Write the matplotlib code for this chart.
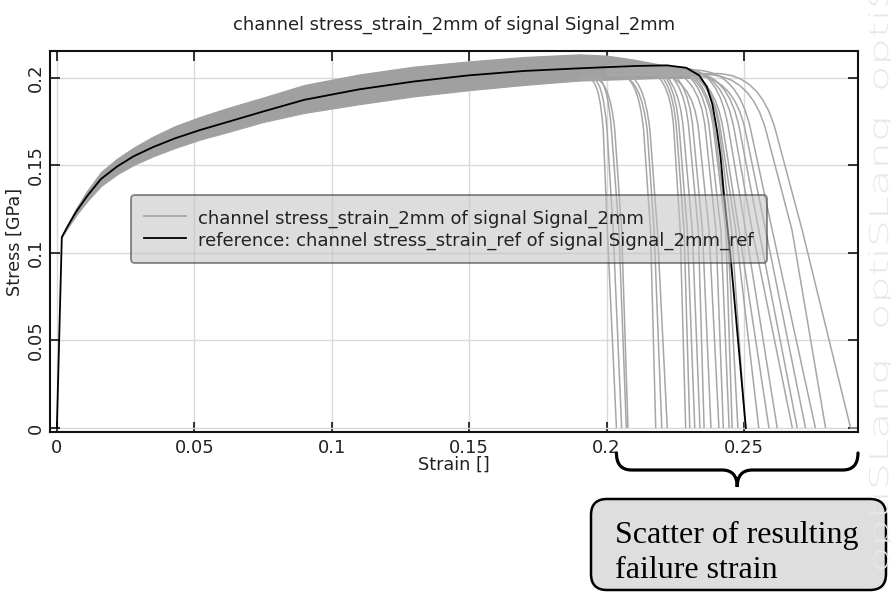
import matplotlib
matplotlib.use("Agg")
import matplotlib.pyplot as plt
from matplotlib.lines import Line2D
from matplotlib.patches import FancyBboxPatch, PathPatch
from matplotlib.path import Path
from matplotlib.textpath import TextPath
from matplotlib.font_manager import FontProperties
from matplotlib.transforms import Affine2D, blended_transform_factory

W, H = 891, 592

### reference curve (black)
ref_strain = [0, 0.0018, 0.004, 0.007, 0.011, 0.016, 0.022, 0.028, 0.035, 0.043, 0.052,
              0.062, 0.075, 0.09, 0.11, 0.13, 0.15, 0.17, 0.19, 0.21, 0.222, 0.229,
              0.2337, 0.2365, 0.2385, 0.2402, 0.2415, 0.2427, 0.245, 0.2507]
ref_stress = [0, 0.109, 0.1155, 0.1235, 0.1325, 0.1422, 0.1495, 0.1553, 0.1605, 0.1655,
              0.1702, 0.1748, 0.1808, 0.1875, 0.1935, 0.198, 0.2015, 0.204, 0.2055, 0.2068,
              0.2072, 0.2058, 0.2015, 0.195, 0.185, 0.170, 0.155, 0.134, 0.100, 0.0]

### envelope of the grey designs before failure
band_strain = [0.0018, 0.004, 0.007, 0.011, 0.016, 0.022, 0.028, 0.035, 0.043, 0.052, 0.062,
               0.075, 0.09, 0.11, 0.13, 0.15, 0.17, 0.19, 0.20, 0.21, 0.22, 0.23]
band_low = [0.109, 0.1145, 0.1215, 0.1295, 0.1382, 0.145, 0.1503, 0.1552, 0.16, 0.1647,
            0.169, 0.1748, 0.18, 0.185, 0.1895, 0.193, 0.196, 0.1985, 0.199, 0.1995,
            0.200, 0.200]
band_high = [0.109, 0.1165, 0.1255, 0.1355, 0.1462, 0.154, 0.1603, 0.1665, 0.1725, 0.1777,
             0.1828, 0.1888, 0.196, 0.202, 0.2065, 0.2095, 0.212, 0.2135, 0.2128, 0.2105,
             0.2075, 0.2055]

### failure branch of every grey design
onset = [0.19, 0.19, 0.19, 0.19, 0.2, 0.2, 0.2, 0.2, 0.2, 0.2, 0.2, 0.2, 0.2, 0.2, 0.2,
         0.2, 0.2, 0.2, 0.2, 0.2, 0.2, 0.2, 0.2, 0.2, 0.2, 0.2, 0.2, 0.2]
plateau = [0.1995, 0.200, 0.2015, 0.200, 0.2025, 0.201, 0.2025, 0.2055, 0.2065, 0.207,
           0.2055, 0.206, 0.2065, 0.2025, 0.205, 0.2065, 0.2055, 0.206, 0.205, 0.2045,
           0.2025, 0.2055, 0.204, 0.2035, 0.2015, 0.2045, 0.202, 0.2025]
bend_start = [0.1935, 0.1945, 0.1955, 0.195, 0.204, 0.205, 0.206, 0.212, 0.213, 0.214,
              0.215, 0.216, 0.217, 0.217, 0.219, 0.220, 0.221, 0.222, 0.223, 0.226,
              0.227, 0.228, 0.229, 0.230, 0.231, 0.232, 0.236, 0.240]
corner = [0.1975, 0.1987, 0.2003, 0.2012, 0.2115, 0.2125, 0.2135, 0.2232, 0.2239, 0.2248,
          0.2261, 0.2281, 0.2295, 0.2313, 0.2338, 0.2351, 0.2364, 0.2369, 0.2384, 0.2383,
          0.2392, 0.2410, 0.2427, 0.2445, 0.2462, 0.2480, 0.2525, 0.2559]
e170 = [0.1988, 0.2002, 0.2018, 0.2030, 0.2135, 0.2148, 0.2158, 0.2245, 0.2255, 0.2265,
        0.2280, 0.2300, 0.2315, 0.2335, 0.2360, 0.2375, 0.2390, 0.2395, 0.2410, 0.2415,
        0.2425, 0.2445, 0.2465, 0.2485, 0.2505, 0.2525, 0.2580, 0.2615]
e113 = [0.2003, 0.2024, 0.2045, 0.2055, 0.2160, 0.2173, 0.2185, 0.2268, 0.2282, 0.2294,
        0.2312, 0.2334, 0.2349, 0.2373, 0.2398, 0.2416, 0.2434, 0.2440, 0.2455, 0.2470,
        0.2482, 0.2506, 0.2530, 0.2554, 0.2579, 0.2603, 0.2675, 0.2712]
e_fail = [0.2036, 0.2055, 0.2072, 0.2078, 0.2179, 0.2201, 0.2221, 0.2288, 0.2303, 0.2321,
          0.2340, 0.2355, 0.2380, 0.2409, 0.2425, 0.2446, 0.2457, 0.2478, 0.2505, 0.2554,
          0.2591, 0.2621, 0.2676, 0.2694, 0.2724, 0.2760, 0.2797, 0.2888]

x_ticks = [0, 0.05, 0.1, 0.15, 0.2, 0.25]
x_labels = ["0", "0.05", "0.1", "0.15", "0.2", "0.25"]
y_ticks = [0, 0.05, 0.1, 0.15, 0.2]
y_labels = ["0", "0.05", "0.1", "0.15", "0.2"]

grey = "#a6a6a6"
txt = "#222222"

fig = plt.figure(figsize=(W / 100, H / 100), dpi=100)
ax = fig.add_axes([50 / W, 1 - 432 / H, 808 / W, 381 / H])

ax.fill_between(band_strain, band_low, band_high, color="#a0a0a0", lw=0.8, zorder=2)

### failure branches: flat plateau, rounded bend, then straight drop to zero
codes = [Path.MOVETO, Path.LINETO, Path.CURVE3, Path.CURVE3, Path.LINETO, Path.LINETO]
for i in range(len(e_fail)):
    verts = [(onset[i], plateau[i]), (bend_start[i], plateau[i]), (corner[i], plateau[i]),
             (e170[i], 0.17), (e113[i], 0.113), (e_fail[i], 0.0)]
    c = list(codes)
    if i == len(e_fail) - 1:
        verts.append((0.2915, 0.0))
        c.append(Path.LINETO)
    ax.add_patch(PathPatch(Path(verts, c), fc="none", ec=grey, lw=1.1, zorder=2))
ax.plot(ref_strain, ref_stress, color="black", lw=1.3, zorder=3)

ax.set_xlim(-0.0025, 0.2915)
ax.set_ylim(-0.0023, 0.2154)
ax.set_xticks(x_ticks, x_labels)
ax.set_yticks(y_ticks, y_labels)
ax.tick_params(direction="in", length=7, width=1.3, top=True, right=True,
               labelsize=13, pad=5, colors=txt)
ax.tick_params(axis="y", pad=4)
for lab in ax.get_yticklabels():
    lab.set_rotation(90)
    lab.set_va("center")
ax.grid(True, color="#d9d9d9", lw=1.0, zorder=0)
ax.set_axisbelow(True)
for sp in ax.spines.values():
    sp.set_linewidth(1.5)
    sp.set_color("#111111")

ax.set_xlabel("Strain []", fontsize=12.7, labelpad=-1, color=txt)
ax.set_ylabel("Stress [GPa]", fontsize=12.7, color=txt)
ax.yaxis.set_label_coords(-0.033, 0.5)
ax.set_title("channel stress_strain_2mm of signal Signal_2mm", fontsize=12.9, pad=15,
             color=txt)

handles = [Line2D([], [], color=grey, lw=1.3), Line2D([], [], color="black", lw=1.3)]
labels = ["channel stress_strain_2mm of signal Signal_2mm",
          "reference: channel stress_strain_ref of signal Signal_2mm_ref"]
leg = ax.legend(handles, labels, loc="upper left", bbox_to_anchor=(131 / W, 1 - 195 / H),
                bbox_transform=fig.transFigure, borderaxespad=0, fancybox=True,
                framealpha=0.55, facecolor="#c2c2c2", edgecolor="#333333",
                fontsize=13, handlelength=2.35, handletextpad=0.65, labelspacing=0.13,
                handleheight=1.2, borderpad=0.72)
leg.get_frame().set_linewidth(1.4)
leg.set_zorder(5)
for t in leg.get_texts():
    t.set_color(txt)

### curly brace under the axis: spans the scatter of failure strains
px = Affine2D().scale(1 / W, 1 / H) + fig.transFigure
bt = blended_transform_factory(ax.transData, px)
xl, xr = min(e_fail), ax.get_xlim()[1]
xm = (xl + xr) / 2
r = 0.0055
y_end, y_bar, y_tip = H - 453, H - 470, H - 487
verts = [(xl, y_end), (xl, y_bar), (xl + r, y_bar), (xm - r, y_bar), (xm, y_bar), (xm, y_tip),
         (xm, y_bar), (xm + r, y_bar), (xr - r, y_bar), (xr, y_bar), (xr, y_end)]
bcodes = [Path.MOVETO, Path.CURVE3, Path.CURVE3, Path.LINETO, Path.CURVE3, Path.CURVE3,
          Path.CURVE3, Path.CURVE3, Path.LINETO, Path.CURVE3, Path.CURVE3]
fig.add_artist(PathPatch(Path(verts, bcodes), transform=bt, fc="none", ec="black",
                         lw=2.3, capstyle="round", clip_on=False))

### note box
box = FancyBboxPatch((591, H - 590), 295, 91, boxstyle="round,pad=0,rounding_size=16",
                     transform=px, fc="#dedede", ec="black", lw=1.8, clip_on=False)
fig.add_artist(box)
fig.text(615 / W, 1 - 553 / H, "Scatter of resulting\nfailure strain",
         family="Liberation Serif", fontsize=23, va="center", ha="left",
         linespacing=1.28, color="black")

### faint watermark on the right edge
fp = FontProperties(family="DejaVu Sans", weight="light")
for y0 in [19, 262, 500]:
    tp = TextPath((0, 0), "optiSLang", size=26, prop=fp)
    tr = Affine2D().scale(1.66, 1.0).rotate_deg(90).translate(888, y0) + px
    fig.add_artist(PathPatch(tp, transform=tr, fc="#e8e8e8", ec="none"))

fig.savefig("out.png", dpi=100)
